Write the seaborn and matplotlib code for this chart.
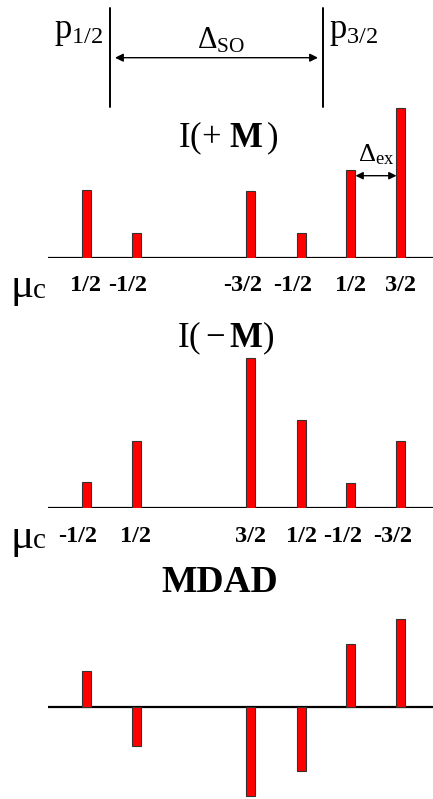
import matplotlib
matplotlib.use("Agg")
import matplotlib.pyplot as plt
import seaborn as sns
import pandas as pd

# ---- data ----
levels = [0.0, 1.0, 3.3, 4.3, 5.3, 6.3]          # core-level energies (arb. units)
I_plus = [68, 25, 67, 25, 88, 150]
I_minus = [26, 67, 150, 88, 25, 67]
mdad = [36, -39, -89, -64, 63, 88]
mu_plus = ["1/2", "-1/2", "-3/2", "-1/2", "1/2", "3/2"]
mu_minus = ["-1/2", "1/2", "3/2", "1/2", "-1/2", "-3/2"]

sns.set_theme(style="white")
plt.rcParams["font.family"] = ["Liberation Serif", "DejaVu Serif"]
plt.rcParams["text.color"] = "black"
plt.rcParams["mathtext.fontset"] = "custom"
plt.rcParams["mathtext.rm"] = "Liberation Serif"
plt.rcParams["mathtext.it"] = "Liberation Serif:italic"
plt.rcParams["mathtext.bf"] = "Liberation Serif:bold"

W, H = 433, 799
fig = plt.figure(figsize=(W / 100, H / 100), dpi=100)
fig.patch.set_facecolor("white")

XL = (-0.76, 6.94)


def make_ax(bottom_px, height_px, ylim):
    ax = fig.add_axes([48 / W, bottom_px / H, 385 / W, height_px / H])
    ax.set_xlim(*XL)
    ax.set_ylim(*ylim)
    ax.patch.set_alpha(0)
    return ax


def draw_bars(ax, vals):
    df = pd.DataFrame({"E": levels, "v": vals})
    sns.barplot(data=df, x="E", y="v", native_scale=True, orient="x",
                width=0.18, color="#ff0000", saturation=1, errorbar=None,
                edgecolor="#333333", linewidth=0.8, ax=ax)
    ax.set_xlim(*XL)
    ax.set_xlabel("")
    ax.set_ylabel("")
    ax.set_xticks([])
    ax.set_yticks([])
    for s in ax.spines.values():
        s.set_visible(False)


def mu_labels(ax, labels):
    for e, lab in zip(levels, labels):
        off = -0.16 if lab.startswith("-") else 0.0
        ax.text(e + off, -28, lab, ha="center", va="center", fontsize=17.5,
                fontweight="bold", color="black", clip_on=False)
    ax.text(-1.27, -29, "\u03bc", ha="center", va="center",
            fontsize=31, color="black", clip_on=False)
    ax.text(-0.93, -33, "c", ha="center", va="center",
            fontsize=21, color="black", clip_on=False)


# panel 1: I(+M)
ax1 = make_ax(H - 257.7, 160, (0, 160))
draw_bars(ax1, I_plus)
ax1.axhline(0, color="black", lw=1.6, zorder=0)
mu_labels(ax1, mu_plus)
ax1.annotate("", xy=(levels[4] + 0.09, 82), xytext=(levels[5] - 0.09, 82),
             arrowprops=dict(arrowstyle="<|-|>", color="black", lw=1,
                             mutation_scale=11, shrinkA=0, shrinkB=0),
             annotation_clip=False)
ax1.text((levels[4] + levels[5]) / 2, 103, r"$\Delta_{\mathrm{ex}}$",
         ha="center", va="center", fontsize=19, color="black")

# panel 2: I(-M)
ax2 = make_ax(H - 508.3, 160, (0, 160))
draw_bars(ax2, I_minus)
ax2.axhline(0, color="black", lw=1.6, zorder=0)
mu_labels(ax2, mu_minus)

# panel 3: MDAD
ax3 = make_ax(0, 191.7, (-91.7, 100))
draw_bars(ax3, mdad)
ax3.axhline(0, color="black", lw=1.6, zorder=0)

# overlay in pixel coordinates for headings and the spin-orbit marker
ov = fig.add_axes([0, 0, 1, 1])
ov.set_xlim(0, W)
ov.set_ylim(H, 0)
ov.axis("off")
ov.patch.set_alpha(0)

ov.plot([110, 110], [8, 107], color="black", lw=1.4)
ov.plot([322.7, 322.7], [8, 107], color="black", lw=1.4)
ov.annotate("", xy=(115, 57.7), xytext=(318, 57.7),
            arrowprops=dict(arrowstyle="<|-|>", color="black", lw=1,
                            mutation_scale=12, shrinkA=0, shrinkB=0))
ov.text(103, 32, r"$\mathrm{p}_{1/2}$", ha="right", va="center", fontsize=25)
ov.text(329, 32, r"$\mathrm{p}_{3/2}$", ha="left", va="center", fontsize=25)
ov.text(221, 41, r"$\Delta_{\mathrm{SO}}$", ha="center", va="center", fontsize=22)

ov.text(228, 138, r"$\mathrm{I(+\ }\mathbf{M}\,\mathrm{)}$", ha="center",
        va="center", fontsize=25)
ov.text(226, 338, r"$\mathrm{I(}-\mathbf{M}\mathrm{)}$", ha="center",
        va="center", fontsize=25)
ov.text(220, 583, "MDAD", ha="center", va="center", fontsize=27,
        fontweight="bold")

fig.savefig("out.png", dpi=100, facecolor="white")
